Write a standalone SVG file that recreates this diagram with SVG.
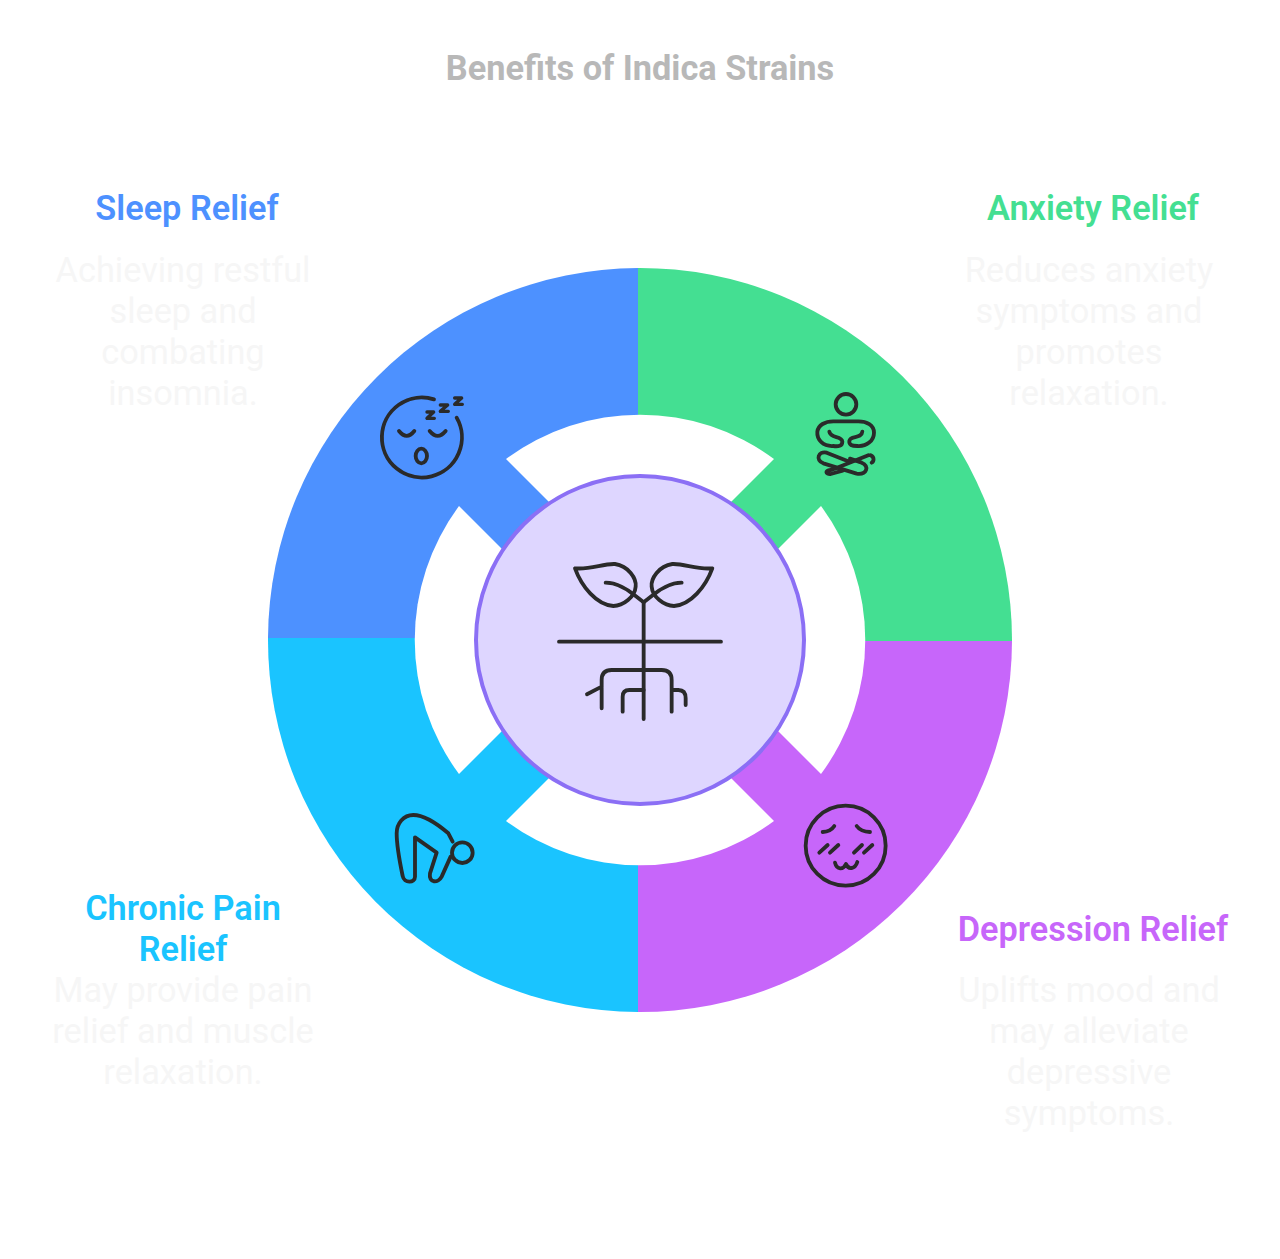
<svg xmlns="http://www.w3.org/2000/svg" width="1280" height="1259" viewBox="0 0 1280 1259">
<style>
text{font-family:Roboto,"Liberation Sans",sans-serif;text-anchor:middle}
.title{font-size:34.3px;font-weight:700;fill:#b8b8b8}
.head{font-size:34.3px;font-weight:600}
.body{font-size:34.3px;font-weight:400;fill:#f6f6f6}
.ic{fill:none;stroke:#2a2a2a;stroke-width:11.5;stroke-linecap:round;stroke-linejoin:round}
</style>
<rect width="1280" height="1259" fill="#fff"/>
<text class="title" x="640" y="79.5">Benefits of Indica Strains</text>
<g id="sleep">
<path d="M638 638H268A372 372 0 0 1 638 268Z" fill="#4d91ff"/>
<text class="head" x="187" y="219.6" fill="#4d91ff">Sleep Relief</text>
<text class="body" x="183" y="281.6">Achieving restful</text><text class="body" x="183" y="322.8">sleep and</text><text class="body" x="183" y="364">combating</text><text class="body" x="183" y="405.2">insomnia.</text>
<g transform="translate(360 380) scale(.3333)" class="ic">
<path d="M222 58A120 120 0 1 0 290 113"/>
<path d="M117 153Q140 182 163 153M209 153Q233 182 257 153"/>
<ellipse cx="184" cy="228" rx="17" ry="22"/>
<path stroke-width="10" d="M201 96H221L201 115H223M241 75H263L241 94H265M284 54H305L284 73H307"/>
</g>
</g>
<g id="anxiety">
<path d="M638 641V268A372 372 0 0 1 1012 641Z" fill="#44df92"/>
<text class="head" x="1093" y="219.6" fill="#44df92">Anxiety Relief</text>
<text class="body" x="1089" y="281.6">Reduces anxiety</text><text class="body" x="1089" y="322.8">symptoms and</text><text class="body" x="1089" y="364">promotes</text><text class="body" x="1089" y="405.2">relaxation.</text>
<g transform="translate(800 380) scale(.3333)" class="ic">
<circle cx="138" cy="73" r="31"/>
<path d="M88 155C92 178 125 165 127 185C127 198 115 200 100 198C70 200 50 180 52 155C55 135 75 124 100 124H175C200 124 222 135 222 158C222 182 200 200 172 198C155 198 147 195 148 183C150 165 185 178 187 155"/>
<path d="M150 246L80 218C55 212 45 240 70 250L170 281C200 285 210 258 185 248L150 236"/>
<path d="M212 226C224 232 222 244 215 248M205 226L115 262L92 270C75 272 75 283 92 282L128 272"/>
</g>
</g>
<g id="depression">
<path d="M638 641H1012A372 372 0 0 1 638 1012Z" fill="#c766fa"/>
<text class="head" x="1093" y="940.6" fill="#c766fa">Depression Relief</text>
<text class="body" x="1089" y="1001.6">Uplifts mood and</text><text class="body" x="1089" y="1042.8">may alleviate</text><text class="body" x="1089" y="1084">depressive</text><text class="body" x="1089" y="1125.2">symptoms.</text>
<g transform="translate(790 790) scale(.3333)" class="ic">
<circle cx="167" cy="167" r="120"/>
<path d="M98 126Q122 125 133 108M240 126Q212 125 200 108"/>
<path d="M88 188L113 165M120 188L145 165M192 188L216 165M222 188L247 165"/>
<path d="M135 218C140 240 160 240 168 222C175 240 195 238 202 216"/>
</g>
</g>
<g id="pain">
<path d="M638 638V1012A372 372 0 0 1 268 638Z" fill="#1ac4ff"/>
<text class="head" x="183" y="919.6" fill="#1ac4ff">Chronic Pain</text><text class="head" x="183" y="960.8" fill="#1ac4ff">Relief</text>
<text class="body" x="183" y="1001.6">May provide pain</text><text class="body" x="183" y="1042.8">relief and muscle</text><text class="body" x="183" y="1084">relaxation.</text>
<g transform="translate(380 800) scale(.3333)" class="ic">
<circle cx="247" cy="158" r="31"/>
<path d="M218 125L205 100C170 70 130 45 100 45C70 45 50 70 50 100C50 140 60 190 68 228C72 250 105 250 105 230L105 112L170 158L150 220C145 250 175 250 185 230L212 170"/>
</g>
</g>
<path d="M506 459A225 225 0 0 1 774 459L640 593Z" fill="#fff"/>
<path d="M821 506A225 225 0 0 1 821 774L687 640Z" fill="#fff"/>
<path d="M774 821A225 225 0 0 1 506 821L640 687Z" fill="#fff"/>
<path d="M459 774A225 225 0 0 1 459 506L593 640Z" fill="#fff"/>
<g id="center">
<circle cx="640" cy="640" r="164" fill="#ded6ff" stroke="#8b6ff5" stroke-width="4"/>
<g transform="translate(540 540) scale(.3333)" class="ic">
<path d="M105 85C150 90 190 70 225 72C265 78 290 115 287 140C285 170 250 198 220 198C170 195 125 140 105 85Z"/>
<path d="M197 128C230 128 265 150 283 165L311 187"/>
<path d="M517 85C472 90 432 70 397 72C357 78 332 115 335 140C337 170 372 198 402 198C452 195 497 140 517 85Z"/>
<path d="M425 128C392 128 357 150 339 165L311 187"/>
<path d="M311 187V537M57 305H543"/>
<path d="M185 505V420Q185 390 215 390H365Q395 390 395 420V515M141 463L185 440M248 515V470Q248 450 268 450H311M395 450H415Q437 450 437 475V495"/>
</g>
</g>
</svg>
